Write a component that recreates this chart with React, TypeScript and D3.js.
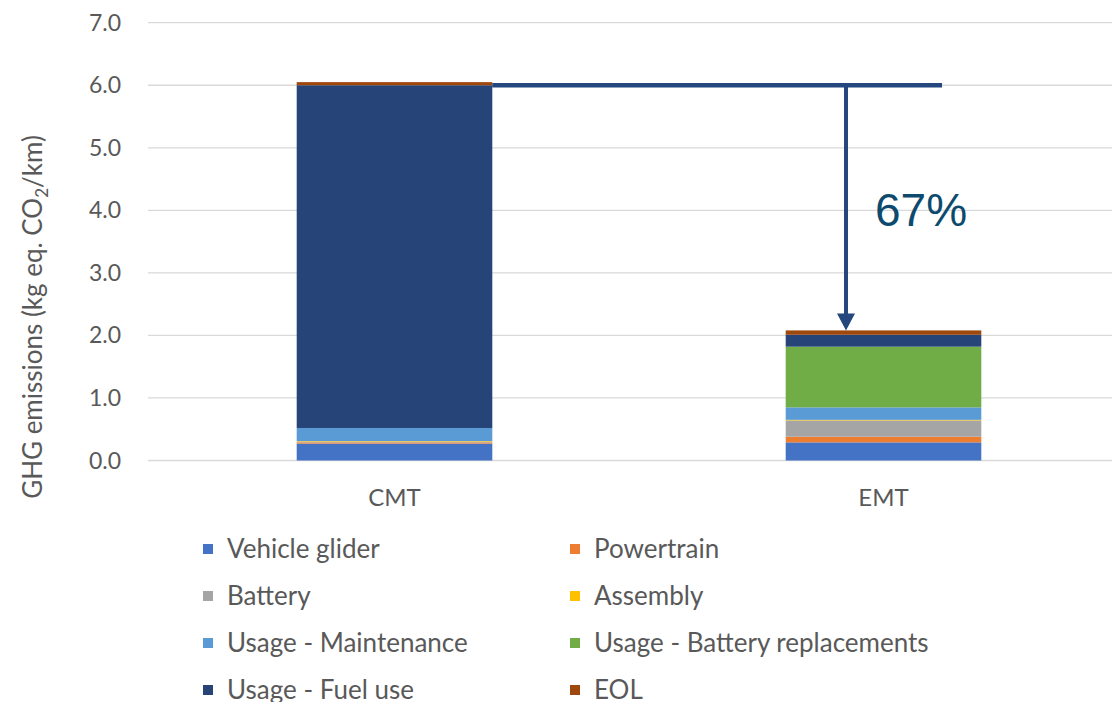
import React from "react";
import * as d3 from "d3";

// Life-cycle GHG emissions per km, split by contributor
const categories = ["CMT", "EMT"];
const components = [
  "Vehicle glider",
  "Powertrain",
  "Battery",
  "Assembly",
  "Usage - Maintenance",
  "Usage - Battery replacements",
  "Usage - Fuel use",
  "EOL",
];
const cmtValues = [0.27, 0.02, 0.01, 0.01, 0.21, 0.0, 5.48, 0.05];
const emtValues = [0.29, 0.09, 0.26, 0.01, 0.2, 0.97, 0.19, 0.07];
const yTicks = [0, 1, 2, 3, 4, 5, 6, 7];
const colors = ["#4472C4", "#ED7D31", "#A5A5A5", "#FFC000", "#5B9BD5", "#70AD47", "#264478", "#9E480E"];
const referenceLevel = 6.0;
const reductionLabel = "67%";

const W = 1112;
const H = 702;
const FONT = "Lato, 'Open Sans', sans-serif";
const TEXT = "#595959";

export default function App() {
  const rows = categories.map((c, i) => {
    const vals = i === 0 ? cmtValues : emtValues;
    const r: any = { category: c };
    components.forEach((k, j) => (r[k] = vals[j]));
    return r;
  });
  const series = d3.stack().keys(components)(rows);

  const x = d3.scaleBand().domain(categories).range([150, 1128]).paddingInner(0.6).paddingOuter(0.3);
  const y = d3.scaleLinear().domain([0, 7]).range([460.5, 22.7]);

  const totals = [d3.sum(cmtValues), d3.sum(emtValues)];
  const cmtRight = (x("CMT") as number) + x.bandwidth();
  const arrowX = 846;
  const arrowEnd = y(totals[1]);
  const refY = y(referenceLevel);

  return (
    <svg width={W} height={H} style={{ position: "absolute", left: 0, top: 0 }}>
      <rect width={W} height={H} fill="#fff" />
      {yTicks.map((t) => (
        <g key={t}>
          <line x1={148} x2={1128} y1={y(t)} y2={y(t)} stroke="#d9d9d9" strokeWidth={1.3} />
          <text x={121} y={y(t)} dy="0.35em" textAnchor="end" fontFamily={FONT} fontSize={23} fill={TEXT}>
            {t.toFixed(1)}
          </text>
        </g>
      ))}
      <text
        transform={`translate(42, 317) rotate(-90)`}
        textAnchor="middle"
        fontFamily={FONT}
        fontSize={26}
        fill={TEXT}
      >
        GHG emissions (kg eq. CO
        <tspan fontSize={17} dy={6}>2</tspan>
        <tspan dy={-6}>/km)</tspan>
      </text>

      {series.map((s, si) => (
        <g key={s.key} fill={colors[si]}>
          {s.map((d: any) => (
            <rect
              key={d.data.category}
              x={x(d.data.category)}
              width={x.bandwidth()}
              y={y(d[1])}
              height={Math.max(0, y(d[0]) - y(d[1]))}
            />
          ))}
        </g>
      ))}

      {categories.map((c) => (
        <text
          key={c}
          x={(x(c) as number) + x.bandwidth() / 2}
          y={498}
          dy="0.35em"
          textAnchor="middle"
          fontFamily={FONT}
          fontSize={24}
          fill={TEXT}
        >
          {c}
        </text>
      ))}

      {/* reduction annotation */}
      <line x1={cmtRight} x2={942} y1={refY} y2={refY} stroke="#24477e" strokeWidth={4.5} />
      <line x1={arrowX} x2={arrowX} y1={refY} y2={arrowEnd - 14} stroke="#24477e" strokeWidth={4} />
      <path
        d={`M${arrowX - 9},${arrowEnd - 17} L${arrowX + 9},${arrowEnd - 17} L${arrowX},${arrowEnd} Z`}
        fill="#24477e"
      />
      <text x={875} y={226} fontFamily="'Liberation Sans', Arial, sans-serif" fontSize={46} fill="#0d4a6e">
        {reductionLabel}
      </text>

      {components.map((k, i) => {
        const col = i % 2;
        const row = Math.floor(i / 2);
        const lx = col === 0 ? 203 : 570;
        const ly = 549 + row * 47;
        return (
          <g key={k}>
            <rect x={lx} y={ly - 5} width={10} height={10} fill={colors[i]} />
            <text x={lx + 24} y={ly} dy="0.35em" fontFamily={FONT} fontSize={26} fill={TEXT}>
              {k}
            </text>
          </g>
        );
      })}
    </svg>
  );
}
